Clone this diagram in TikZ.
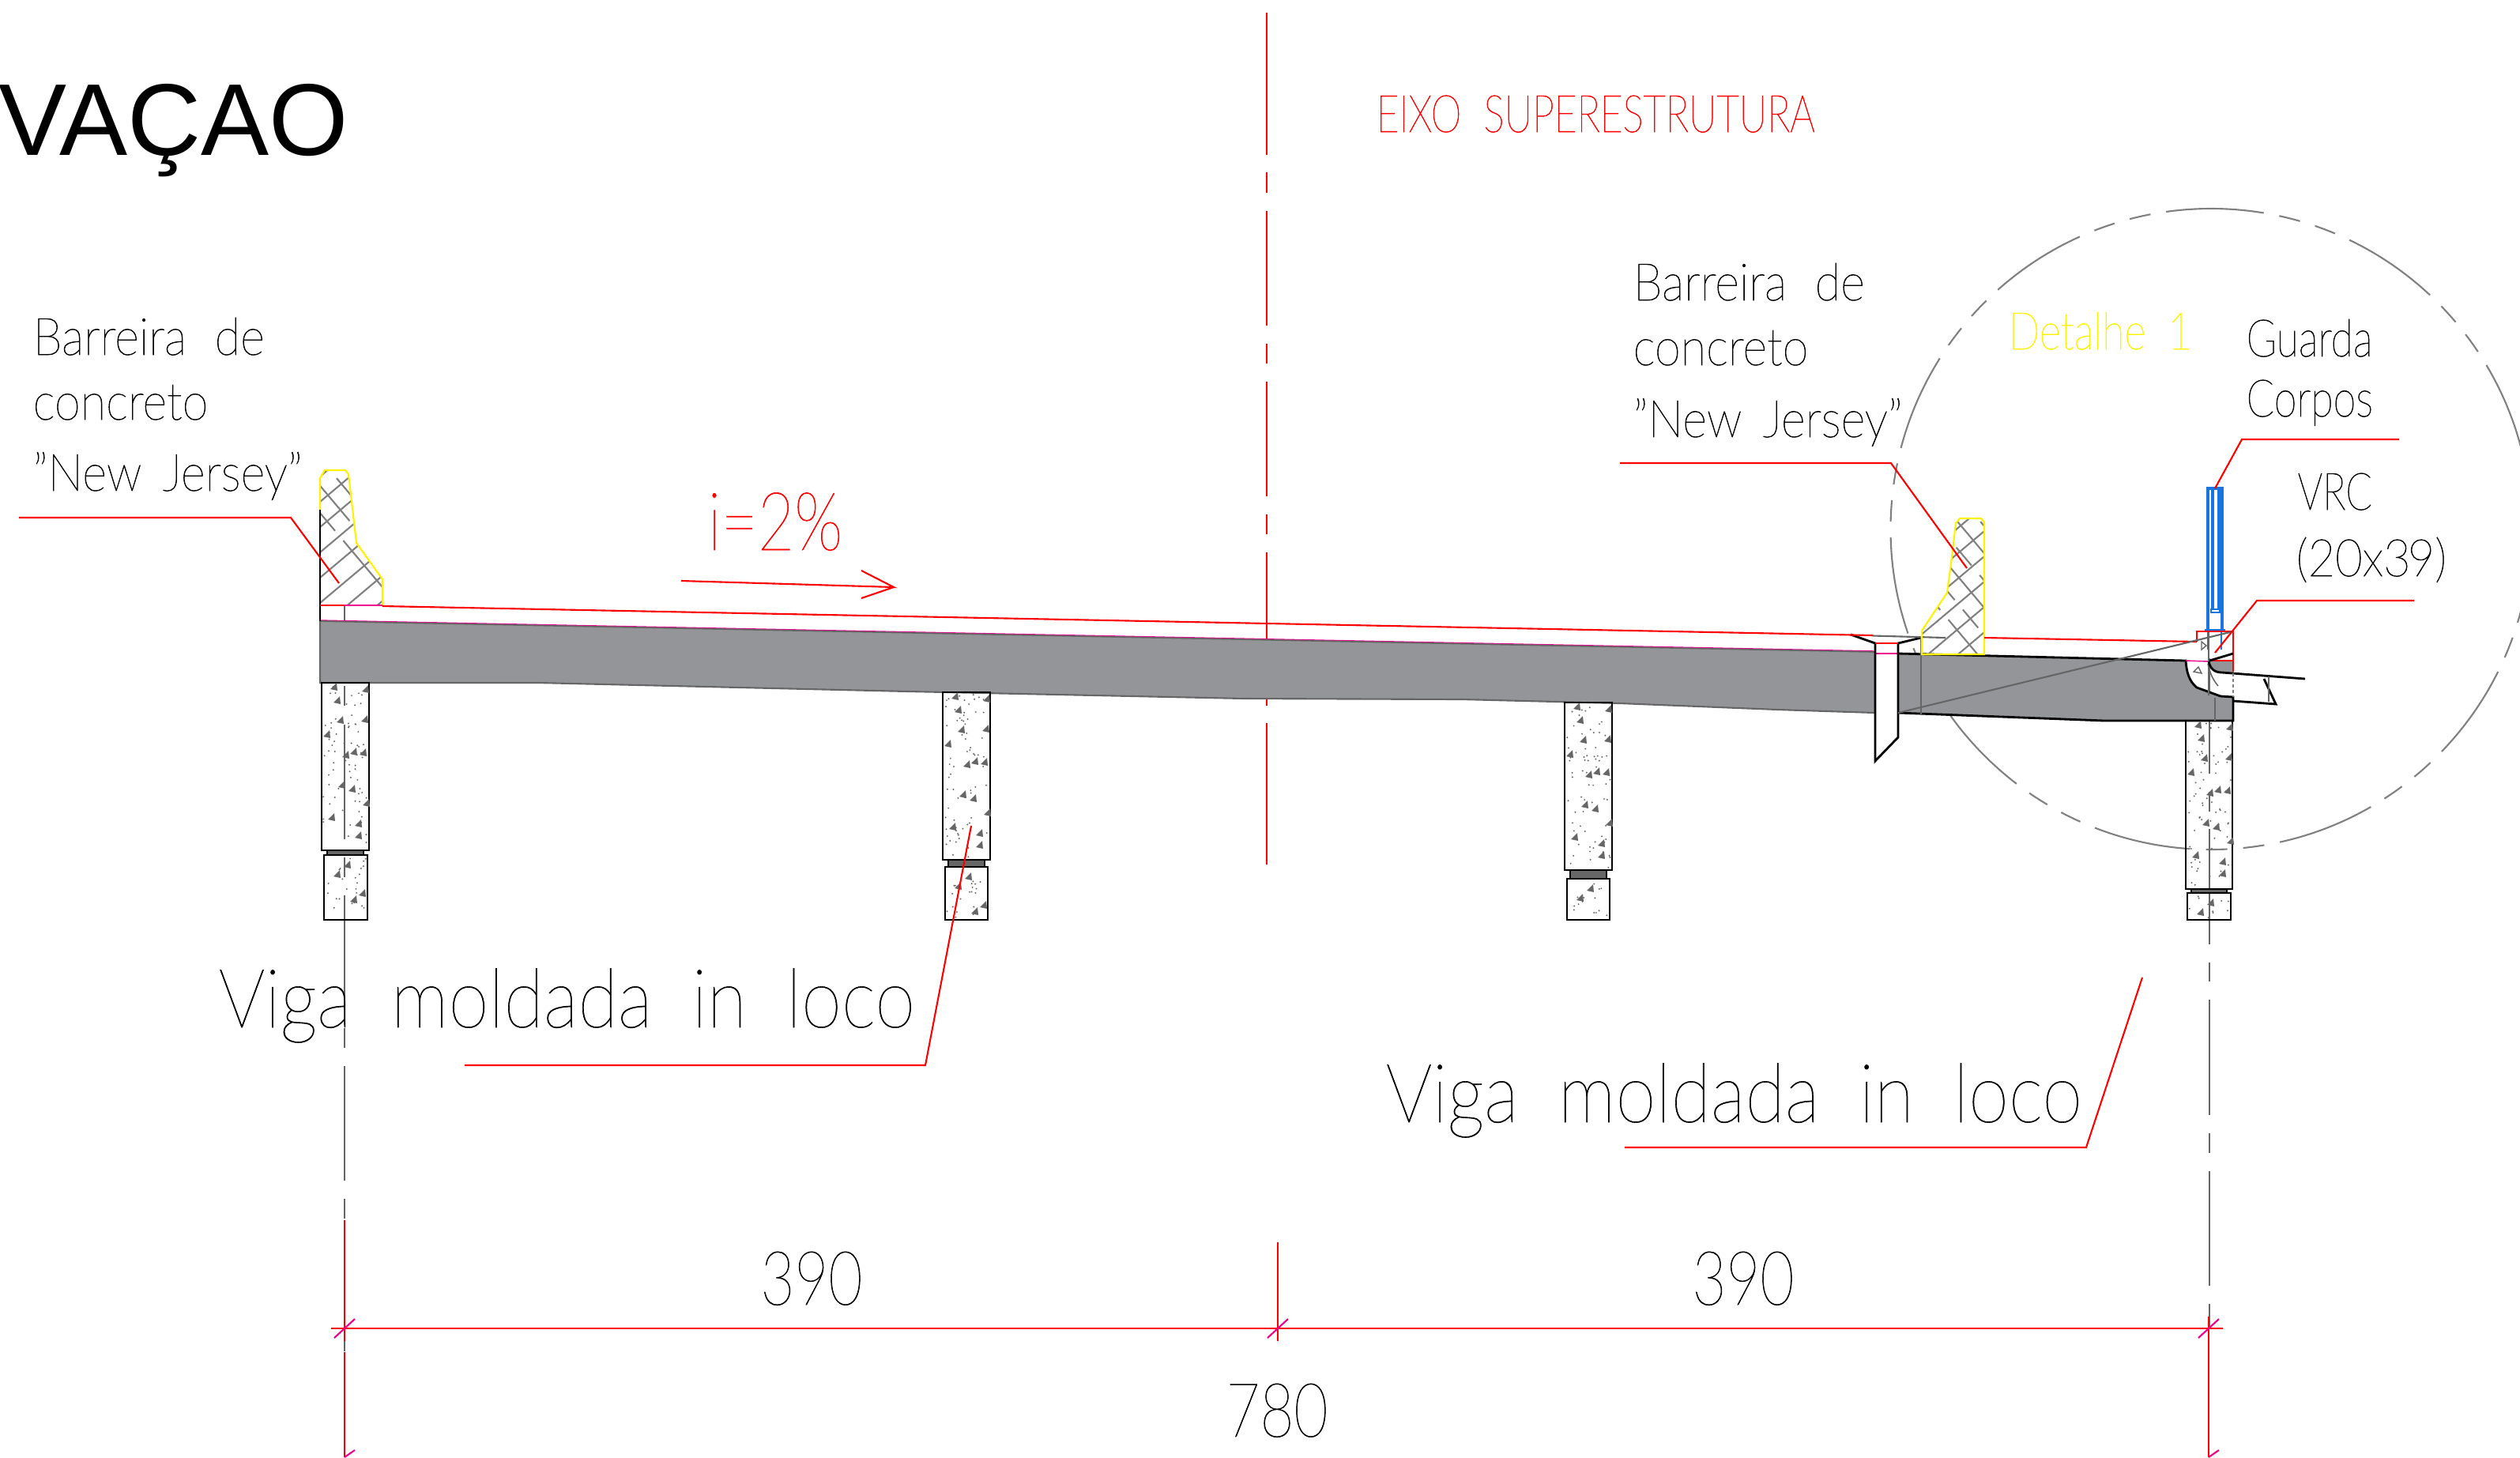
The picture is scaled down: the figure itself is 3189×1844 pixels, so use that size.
\documentclass[tikz,border=0pt]{standalone}
\usepackage{fontspec}
\setmainfont{Liberation Sans}
\newfontfamily\cadfont[FakeStretch=0.795,WordSpace=1.9,FakeBold=1]{Lato Thin}
\newfontfamily\cadwide[FakeStretch=0.91,WordSpace=2.1,FakeBold=1]{Lato Thin}
\newfontfamily\cadcaps[FakeStretch=0.755,WordSpace=2.0,FakeBold=1]{Lato Thin}
\newfontfamily\cadbig[FakeStretch=0.89,WordSpace=1.9,FakeBold=0.6]{Lato Thin}
\newfontfamily\caddim[FakeStretch=0.78,FakeBold=0.6]{Lato Thin}
\definecolor{deckgray}{HTML}{939598}
\definecolor{hatchgray}{HTML}{808080}
\definecolor{darkgray}{HTML}{666666}
\definecolor{railblue}{HTML}{1874E0}
\tikzset{
  leader/.style={red, line width=0.6pt, line join=miter},
  axisline/.style={red, line width=0.5pt},
  centerline/.style={darkgray, line width=0.45pt},
  outline/.style={black, line width=0.8pt},
  hatchline/.style={hatchgray, line width=0.6pt},
  tick/.style={magenta, line width=0.6pt},
  rail/.style={railblue, line width=0.9pt},
  railthin/.style={railblue, line width=0.4pt},
  lblS/.style={anchor=base west, inner sep=0pt, font=\cadfont\fontsize{18.6}{22}\selectfont},
  lblW/.style={anchor=base west, inner sep=0pt, font=\cadwide\fontsize{18.6}{22}\selectfont},
  lblC/.style={anchor=base west, inner sep=0pt, font=\cadcaps\fontsize{18.6}{22}\selectfont},
  lblL/.style={anchor=base west, inner sep=0pt, font=\cadbig\fontsize{29.5}{34}\selectfont},
  lblD/.style={anchor=base, inner sep=0pt, font=\caddim\fontsize{27}{32}\selectfont},
}
\newcommand{\barLeft}{(405,605) -- (411,595) -- (437,595) -- (441,600) -- (451,687) -- (484,733) -- (484,766) -- (405,766) -- cycle}
\newcommand{\barRight}{(2475,662) -- (2480,656) -- (2507,656) -- (2511,661) -- (2511,828) -- (2432,828) -- (2432,798) -- (2464,750) -- (2469,713) -- cycle}
\newcommand{\triTall}{11/5,51/8,15/22,19/47,50/46,2/65,26/91,36/87,48/88,21/129,34/134,52/152,8/170,42/178,42/193}
\newcommand{\triLow}{12/23,25/11,33/55,44/47}
% concrete texture
\newcommand{\concreto}[5]{%
  \foreach \k in {1,...,#4}{%
    \pgfmathsetmacro{\px}{#1+2+rnd*(#2-#1-4)}
    \pgfmathsetmacro{\py}{#3+3+rnd*(\colh)}
    \fill[darkgray] (\px,\py) circle[radius=1.1];
  }
  \foreach \u/\v in #5{%
    \ifnum\v<\colh
      \fill[darkgray] (#1+\u,#3+\v+3) -- ++(8,-8) -- ++(1,10) -- cycle;
    \fi
  }
}
\newcommand{\hatch}{%
  \foreach \c in {0,32,...,400}{\draw[hatchline] (380,{560+\c}) -- ++(170,-143);}
  \foreach \c in {0,29,...,250}{\draw[hatchline, dash pattern=on 1.0cm off 0.16cm on 0.3cm off 0.16cm, dash phase=\c*1.3] ({\c+330},560) -- ++(170,202);}
}
\begin{document}
\begin{tikzpicture}[x=0.01cm,y=-0.01cm]
    \useasboundingbox (0,0) rectangle (3189,1844);
    \pgfmathsetseed{2087}
    % detail circle
    \draw[hatchgray, line width=0.6pt, dash pattern=on 1.24cm off 0.2cm on 0.27cm off 0.2cm on 0.27cm off 0.2cm, dash phase=0.51cm] (2798,669.5) ellipse (405.5 and 405.5);
    % structure axis
    \foreach \a/\b in {16/196,218/244,267/412,435/460,483/628,651/676,699/810,885/893,915/1094}
        \draw[axisline] (1603,\a) -- (1603,\b);
    % column axes
    \foreach \a/\b in {868/893,917/1062,1085/1110,1133/1278,1301/1326,1349/1494,1517/1542}
        \draw[centerline] (436,\a) -- (436,\b);
    \foreach \a/\b in {833/979,1002/1027,1049/1195,1218/1242,1265/1411,1434/1459,1482/1627,1650/1681}
        \draw[centerline] (2796,\a) -- (2796,\b);
    \draw[centerline] (436,766) -- (436,786);
    % deck
    \fill[deckgray] (405,786) -- (2373,825) -- (2373,902) -- (2250,898) -- (2050,890) -- (1850,885) -- (1575,884) -- (1150,875) -- (681,864) -- (405,864) -- cycle;
    \draw[magenta, line width=0.4pt] (405,785) -- (2373,824);
    \draw[darkgray, line width=0.5pt] (405,786) -- (2373,825);
    \draw[darkgray, line width=0.6pt] (405,786) -- (405,864) -- (681,864) -- (1150,875) -- (1575,884) -- (1850,885) -- (2050,890) -- (2250,898) -- (2373,902);
    \fill[deckgray] (2402,827) -- (2766,836) .. controls (2767,850) and (2770,862) .. (2780,870) -- (2810,881) -- (2826,882) -- (2826,912) -- (2663,912) -- (2402,902) -- cycle;
    \fill[deckgray] (2795,837) .. controls (2797,846) and (2802,851) .. (2812,851) -- (2826,852) -- (2826,837) -- cycle;
    \draw[outline] (2402,827) -- (2766,836) .. controls (2767,850) and (2770,862) .. (2780,870) -- (2810,881) -- (2826,882) -- (2826,912) -- (2663,912) -- (2402,902);
    \draw[magenta, line width=0.4pt] (2766,836) -- (2795,837);
    % joint
    \draw[magenta, line width=0.8pt] (2373,827) -- (2402,827);
    \draw[outline] (2342,803) -- (2373,814) -- (2373,963) -- (2402,933) -- (2402,814) -- (2431,807);
    \draw[red, line width=0.7pt] (2373,814) -- (2402,814);
    \draw[darkgray, line width=0.6pt] (2370,804.5) -- (2462,807);
    \draw[darkgray, line width=0.5pt] (2431,807) -- (2431,904);
    % left deck end
    \draw[outline] (405,645) -- (405,786);
    % barriers
    \begin{scope}
        \clip \barLeft;
        \begin{scope}[yshift=0cm]\hatch\end{scope}
    \end{scope}
    \begin{scope}
        \clip \barRight;
        \begin{scope}[xshift=20.3cm,yshift=-1.0cm]\hatch\end{scope}
    \end{scope}
    \draw[yellow, line width=0.6pt] (405,645) -- (405,605) -- (411,595) -- (437,595) -- (441,600) -- (451,687) -- (484,733) -- (484,766);
    \draw[outline] (405,645) -- (405,766);
    \draw[yellow, line width=0.6pt] \barRight;
    \draw[magenta, line width=0.8pt] (435,766) -- (484,766);
    \draw[red, line width=0.7pt] (405,766) -- (435,766);
    % slope line
    \draw[leader] (484,767) -- (2370,804);
    \draw[leader] (2511,807) -- (2780,812);
    % columns
    \def\colh{206}
    \draw[outline] (407,864) rectangle (467,1076);  \concreto{407}{467}{864}{70}{\triTall}
    \draw[outline] (1193,876) rectangle (1253,1088); \concreto{1193}{1253}{876}{70}{\triTall}
    \draw[outline] (1980,889) rectangle (2040,1101); \concreto{1980}{2040}{889}{70}{\triTall}
    \draw[outline] (2766,912) rectangle (2825,1125); \concreto{2766}{2825}{912}{70}{\triTall}
    \def\colh{76}
    \draw[outline] (410,1082) rectangle (465,1164);  \concreto{410}{465}{1083}{24}{\triLow}
    \def\colh{62}
    \draw[outline] (1196,1097) rectangle (1250,1164); \concreto{1196}{1250}{1098}{20}{\triLow}
    \def\colh{46}
    \draw[outline] (1983,1112) rectangle (2037,1164); \concreto{1983}{2037}{1113}{16}{\triLow}
    \def\colh{28}
    \draw[outline] (2768,1130) rectangle (2823,1164); \concreto{2768}{2823}{1131}{10}{\triLow}
    % bearing pads
    \foreach \xa/\xb/\ya/\yb in {414/460/1076/1082,1200/1246/1088/1097,1987/2033/1101/1112,2773/2818/1125/1130}
        \draw[outline, fill=darkgray] (\xa,\ya) rectangle (\xb,\yb);
    % rail and edge beam
    \draw[rail] (2794,798) -- (2794,618) -- (2812,618) -- (2812,798);
    \draw[rail] (2790,798) -- (2816,798);
    \draw[railthin] (2799,619) -- (2799,771) (2801,619) -- (2801,771) (2807,619) -- (2807,771) (2809,619) -- (2809,771);
    \draw[railthin] (2798,771) rectangle (2809,775);
    \draw[railthin] (2794,798) -- (2794,822) (2811,798) -- (2811,822);
    \draw[red, line width=0.7pt] (2780,812) -- (2780,799) -- (2826,799) -- (2826,850);
    \draw[red, line width=0.7pt] (2795,836) -- (2826,836);
    \draw[darkgray, line width=0.6pt] (2402,902) -- (2826,799);
    \draw[centerline] (2795,800) -- (2795,880);
    \draw[centerline] (2803,883) -- (2803,912);
    \draw[centerline] (2794,840) .. controls (2796,850) and (2800,860) .. (2807,868);
    \draw[outline] (2796,836) -- (2826,827);
    \draw[outline] (2795,837) .. controls (2797,846) and (2802,851) .. (2812,851) -- (2917,859);
    \draw[outline] (2826,887) -- (2880,891) -- (2865,859);
    \draw[centerline] (2871,856) -- (2871,888);
    \draw[hatchgray, line width=0.5pt, dash pattern=on 1pt off 1pt] (2826,852) -- (2826,882);
    \draw[darkgray, line width=0.4pt] (2786,812) -- (2792,817) -- (2786,822) -- cycle;
    \draw[darkgray, line width=0.4pt] (2776,850) -- (2782,844) -- (2786,852) -- cycle;
    % dimension lines
    \draw[axisline] (436,1544) -- (436,1697);
    \draw[centerline] (436,1697) -- (436,1710);
    \draw[axisline] (436,1711) -- (436,1844);
    \draw[axisline] (1617,1572) -- (1617,1697);
    \draw[axisline] (2795,1666) -- (2795,1844);
    \coordinate (dimL) at (419,1681);
    \coordinate (dimR) at (2813,1681);
    \draw[red, line width=0.7pt] (dimL) -- (dimR);
    \foreach \x in {436,1617,2795}
        \draw[tick] (\x-13,1693) -- (\x+13,1669);
    \foreach \x in {436,2795}
        \draw[tick] (\x,1844) -- (\x+13,1835);
    % leaders
    \coordinate (barLa) at (24,655);
    \coordinate (barLb) at (368,655);
    \coordinate (barLc) at (429,738);
    \draw[leader] (barLa) -- (barLb) -- (barLc);
    \coordinate (barRa) at (2050,586);
    \coordinate (barRb) at (2393,586);
    \coordinate (barRc) at (2489,719);
    \draw[leader] (barRa) -- (barRb) -- (barRc);
    \coordinate (guaA) at (3036,556);
    \coordinate (guaB) at (2837,556);
    \coordinate (guaC) at (2803,618);
    \draw[leader] (guaA) -- (guaB) -- (guaC);
    \coordinate (vrcA) at (3055,760);
    \coordinate (vrcB) at (2856,760);
    \coordinate (vrcC) at (2803,826);
    \draw[leader] (vrcA) -- (vrcB) -- (vrcC);
    \coordinate (vigLa) at (588,1348);
    \coordinate (vigLb) at (1171,1348);
    \coordinate (vigLc) at (1229,1045);
    \draw[leader] (vigLa) -- (vigLb) -- (vigLc);
    \coordinate (vigRa) at (2056,1452);
    \coordinate (vigRb) at (2640,1452);
    \coordinate (vigRc) at (2711,1237);
    \draw[leader] (vigRa) -- (vigRb) -- (vigRc);
    % slope arrow
    \coordinate (slopeA) at (862,735);
    \coordinate (slopeB) at (1131,743);
    \draw[leader] (slopeA) -- (slopeB) -- (1090,722);
    \draw[leader] (slopeB) -- (1090,757);
    % texts
    \node[anchor=base west, inner sep=0pt, font=\fontsize{36.7}{40}\selectfont] at (-2,196) (titleTxt) {VAÇAO};
    \node[lblC, red] at (1741,167) (axisTxt) {EIXO SUPERESTRUTURA};
    \node[lblW] at (41,449) (barLtxtA) {Barreira de};
    \node[lblW] at (41,531) (barLtxtB) {concreto};
    \node[lblW] at (41,621) (barLtxtC) {”New\hspace{-.14em} Jersey”};
    \node[lblW] at (2066,380) (barRtxtA) {Barreira de};
    \node[lblW] at (2066,462) (barRtxtB) {concreto};
    \node[lblW] at (2066,553) (barRtxtC) {”New\hspace{-.14em} Jersey”};
    \node[lblS, yellow] at (2541,442) (detTxt) {Detalhe 1};
    \node[lblS] at (2842,451) (guaTxtA) {Guarda};
    \node[lblS] at (2842,527) (guaTxtB) {Corpos};
    \node[lblC] at (2907,645) (vrcTxtA) {VRC};
    \node[lblW] at (2905,729) (vrcTxtB) {(20x3\hspace{-.06em}9)};
    \node[lblD, red, font=\caddim\fontsize{29.2}{34}\selectfont, anchor=base west] at (895,696) (slopeTxt) {i=2\%};
    \node[lblL] at (276,1300) (vigLtxt) {Viga moldada in loco};
    \node[lblL] at (1753,1420) (vigRtxt) {Viga moldada in loco};
    \node[lblD] at (1027,1651) (dimTxtA) {390};
    \node[lblD] at (2206,1651) (dimTxtB) {390};
    \node[lblD] at (1616,1818) (dimTxtC) {780};
\end{tikzpicture}
\end{document}
